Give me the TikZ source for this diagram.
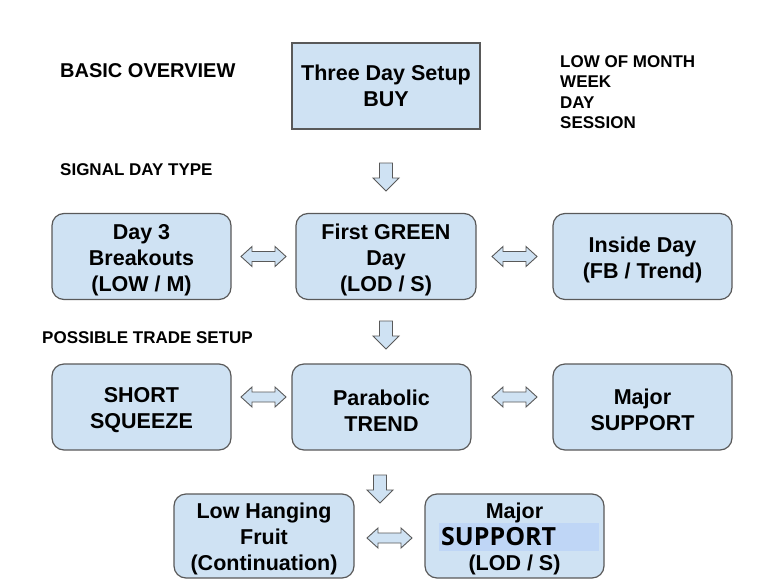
\documentclass[tikz,border=0pt]{standalone}
\usepackage{fontspec}
\setmainfont{Liberation Sans}
\newfontfamily\hlfont{Open Sans}
\usetikzlibrary{calc}

\definecolor{boxfill}{RGB}{207,226,243}
\definecolor{boxline}{RGB}{89,89,89}
\definecolor{hlfill}{RGB}{191,214,246}
\newcommand{\boxfont}{\fontsize{21.5}{26}\selectfont\bfseries}
\newcommand{\tstrut}{\rule{0pt}{22pt}}

\begin{document}
\begin{tikzpicture}[x=1pt,y=-1pt,
    sqbox/.style={draw=boxline,fill=boxfill,line width=1.2pt,inner sep=0pt,
      align=center,font=\boxfont,minimum width=188pt,minimum height=86pt},
    rbox/.style={sqbox,rounded corners=12pt,minimum width=179pt},
    head/.style={inner sep=0pt,font=\fontsize{17}{20.6}\selectfont\bfseries},
    arrline/.style={draw=boxline,fill=boxfill,line width=0.9pt,line join=miter},
    pics/downarr/.style={code={
      \draw[arrline] (-6.5,0) -- (-6.5,15) -- (-13,15) -- (0,28) -- (13,15)
        -- (6.5,15) -- (6.5,0) -- cycle;}},
    pics/lrarr/.style={code={
      \draw[arrline] (-22.5,0) -- (-11.5,-10) -- (-11.5,-5) -- (11.5,-5) -- (11.5,-10)
        -- (22.5,0) -- (11.5,10) -- (11.5,5) -- (-11.5,5) -- (-11.5,10) -- cycle;}}]
  \useasboundingbox (0,0) rectangle (774,581);
  % headings
  \node[head,anchor=west,font=\fontsize{20}{24}\selectfont\bfseries] (basic) at (60,70.5) {BASIC OVERVIEW};
  \node[head,anchor=west] (signal) at (60,169.5) {SIGNAL DAY TYPE};
  \node[head,anchor=west] (trade) at (42,338) {POSSIBLE TRADE SETUP};
  \node[head,anchor=north west,align=left] (period) at (560,55)
    {LOW OF MONTH\\WEEK\\DAY\\SESSION};
  % top box
  \node[sqbox] (setup) at (386,86) {Three Day Setup\\BUY};
  % signal day row
  \node[rbox] (breakout) at (141.5,256.5) {\tstrut Day 3\\Breakouts\\(LOW / M)};
  \node[rbox,minimum width=180pt] (green) at (386,256.5) {\tstrut First GREEN\\Day\\(LOD / S)};
  \node[rbox] (inside) at (642.5,256.5) {\tstrut Inside Day\\(FB / Trend)};
  % trade setup row
  \node[rbox] (squeeze) at (141.5,407) {\tstrut SHORT\\SQUEEZE};
  \node[rbox] (parabolic) at (381.5,407) {\tstrut Parabolic\\TREND};
  \node[rbox] (support) at (642.5,407) {\tstrut Major\\SUPPORT};
  % bottom row
  \node[rbox,minimum width=180pt,minimum height=84pt] (fruit) at (264,536) {\tstrut Low Hanging\\Fruit\\(Continuation)};
  \node[rbox,minimum height=84pt] (lodsupport) at (514.5,536) {\tstrut Major\\\mbox{}\\(LOD / S)};
  \node[fill=hlfill,inner sep=2pt,text width=156pt,minimum height=28pt,align=left,
    anchor=west,font=\hlfont\fontsize{25}{28}\selectfont\bfseries] (hl) at (439,537) {SUPPORT};
  % block arrows
  \pic at (386,163) {downarr};
  \pic at (386,321) {downarr};
  \pic at (380,475) {downarr};
  \pic at ($(breakout.east)!0.5!(green.west)$) {lrarr};
  \pic at ($(green.east)!0.5!(inside.west)$) {lrarr};
  \pic at (263.5,397) {lrarr};
  \pic at (514.5,397) {lrarr};
  \pic at ($(fruit.east)!0.5!(lodsupport.west)+(0,2)$) {lrarr};
\end{tikzpicture}
\end{document}
